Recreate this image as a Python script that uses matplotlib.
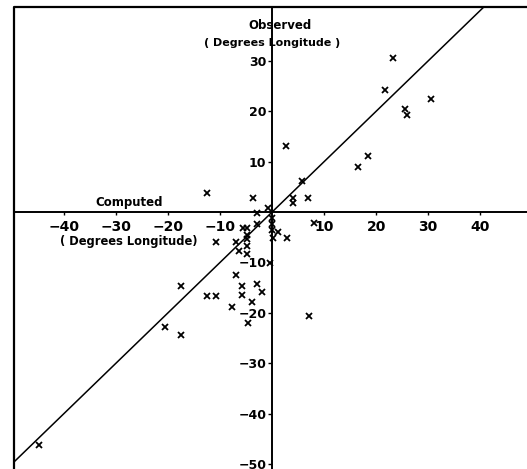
import matplotlib
matplotlib.use("Agg")
import matplotlib.pyplot as plt
import numpy as np

plt.rcParams['font.family'] = ['DejaVu Sans']

computed = [23.3, 21.7, 30.5, 25.6, 26.0, 2.6, 18.5, 16.6, 5.7, -12.6,
            -3.6, 4.1, 4.1, 6.9, -0.8, -2.8, 8.1, 0.0, 0.0, 0.0,
            1.2, 0.2, 2.9, -2.9, -5.6, -4.8, -4.8, -4.8, -4.8, -4.8,
            -6.9, -6.3, -10.8, -0.4, -6.9, -5.8, -5.8, -2.9, -2.0, -3.8,
            -7.7, -4.7, 7.1, -17.5, -12.6, -10.8, -20.5, -17.5, -44.8]
observed = [30.6, 24.3, 22.4, 20.5, 19.3, 13.1, 11.2, 9.0, 6.1, 3.7,
            2.8, 2.7, 1.7, 2.7, 0.9, -0.2, -2.1, -1.2, -2.3, -3.5,
            -3.9, -5.1, -5.1, -2.4, -3.1, -3.1, -4.5, -5.4, -6.8, -8.3,
            -6.0, -7.8, -6.0, -10.1, -12.5, -14.6, -16.5, -14.3, -15.9, -17.8,
            -18.9, -22.0, -20.7, -14.6, -16.7, -16.7, -22.8, -24.5, -46.2]

x_ticks = [-40, -30, -20, -10, 10, 20, 30, 40]
y_ticks = [30, 20, 10, -10, -20, -30, -40, -50]
line_ends = [-60, 60]

fig = plt.figure(figsize=(5.27, 4.69), dpi=100)
ax = fig.add_axes([14/527, 0.0, 1 - 14/527, 1 - 7/469])
ax.set_xlim(-49.6, 49.0)
ax.set_ylim(-51.0, 40.7)

# central axes
for s in ['right', 'top']:
    ax.spines[s].set_visible(False)
ax.spines['left'].set_position(('data', 0))
ax.spines['bottom'].set_position(('data', 0))
for s in ['left', 'bottom']:
    ax.spines[s].set_linewidth(1.4)
    ax.spines[s].set_color('black')

# outer frame (left and top)
ax.plot([0, 0, 1], [0, 1, 1], transform=ax.transAxes, color='black',
        lw=1.6, clip_on=False)

ax.set_xticks(x_ticks)
ax.set_yticks(y_ticks)
ax.tick_params(axis='x', direction='out', length=2, width=1, pad=4, labelsize=10)
ax.tick_params(axis='y', direction='out', length=3, width=1, pad=1, labelsize=9)
ax.set_xticklabels(['\u2212' + str(-v) if v < 0 else str(v) for v in x_ticks],
                   fontweight='bold')
ax.set_yticklabels(['\u2212' + str(-v) if v < 0 else str(v) for v in y_ticks],
                   fontweight='bold')

# 1:1 line
ax.plot(line_ends, line_ends, color='black', lw=1.1)

# points
ax.plot(computed, observed, linestyle='none', marker='x', color='black',
        ms=4.5, mew=1.3)

ax.text(1.5, 37.0, 'Observed', ha='center', va='center', fontsize=8.5,
        fontweight='bold')
ax.text(0.0, 33.5, '( Degrees Longitude )', ha='center', va='center',
        fontsize=8, fontweight='bold')
ax.text(-27.5, 1.8, 'Computed', ha='center', va='center', fontsize=8.5,
        fontweight='bold')
ax.text(-27.5, -5.9, '( Degrees Longitude)', ha='center', va='center',
        fontsize=8.3, fontweight='bold')

fig.savefig('out.png', dpi=100)
